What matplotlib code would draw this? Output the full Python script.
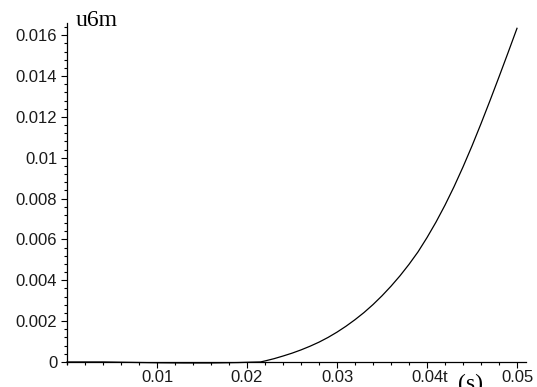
import matplotlib.pyplot as plt
from matplotlib.ticker import MultipleLocator, FuncFormatter

# displacement u6 against time
t = [0.0, 0.004, 0.007, 0.010, 0.013, 0.016, 0.019, 0.0205, 0.0215, 0.022,
     0.023, 0.024, 0.025, 0.026, 0.027, 0.028, 0.029, 0.030, 0.031, 0.032,
     0.033, 0.034, 0.035, 0.036, 0.037, 0.038, 0.039, 0.040, 0.041, 0.042,
     0.043, 0.044, 0.045, 0.046, 0.047, 0.048, 0.049, 0.050]
u6 = [0.0, 0.0, -0.00002, -0.00004, -0.00005, -0.00005, -0.00003, -0.00001,
      0.0, 0.00005, 0.00016, 0.00029, 0.00043, 0.00059, 0.00077, 0.00097,
      0.0012, 0.00146, 0.00175, 0.00207, 0.00242, 0.00281, 0.00324, 0.00371,
      0.00422, 0.00478, 0.00539, 0.00609, 0.00685, 0.00768, 0.00858, 0.00955,
      0.01058, 0.01167, 0.0128, 0.01396, 0.01514, 0.01634]

x_ticks = [0.01, 0.02, 0.03, 0.04, 0.05]
y_ticks = [0, 0.002, 0.004, 0.006, 0.008, 0.01, 0.012, 0.014, 0.016]

fig = plt.figure(figsize=(5.37, 3.87), dpi=100)
ax = fig.add_axes([67 / 537, 23 / 387, 459 / 537, 341 / 387])

ax.plot(t, u6, color='black', lw=0.9, clip_on=False)

ax.set_xlim(0, 0.051)
ax.set_ylim(-0.0001, 0.0166)

for s in ['top', 'right']:
    ax.spines[s].set_visible(False)
ax.spines['bottom'].set_position(('data', 0))
ax.spines['left'].set_position(('data', 0))
for s in ['bottom', 'left']:
    ax.spines[s].set_linewidth(0.9)

ax.set_xticks(x_ticks)
ax.set_yticks(y_ticks)
ax.xaxis.set_minor_locator(MultipleLocator(0.002))
ax.yaxis.set_minor_locator(MultipleLocator(0.0004))

fmt = FuncFormatter(lambda v, p: '0' if v == 0 else ('%g' % v))
ax.xaxis.set_major_formatter(fmt)
ax.yaxis.set_major_formatter(fmt)

ax.tick_params(which='major', direction='out', length=4, width=0.8,
               labelsize=12, pad=3)
ax.tick_params(which='minor', direction='out', length=2.5, width=0.8)
ax.tick_params(axis='x', which='major', pad=2)
for lbl in ax.get_xticklabels() + ax.get_yticklabels():
    lbl.set_fontfamily('Liberation Sans')
    lbl.set_color('#1a1a1a')

# axis labels in the Maple style
fig.text(76 / 537, 1 - 21 / 387, 'u6m', family='Liberation Serif',
         fontsize=17, ha='left', va='center')
fig.text(443 / 537, 1 - 377 / 387, 't', family='Liberation Sans',
         fontsize=12, ha='left', va='center', color='#1a1a1a')
fig.text(458 / 537, 1 - 384 / 387, '(s)', family='Liberation Serif',
         fontsize=17, ha='left', va='center')

fig.savefig('out.png', dpi=100)
